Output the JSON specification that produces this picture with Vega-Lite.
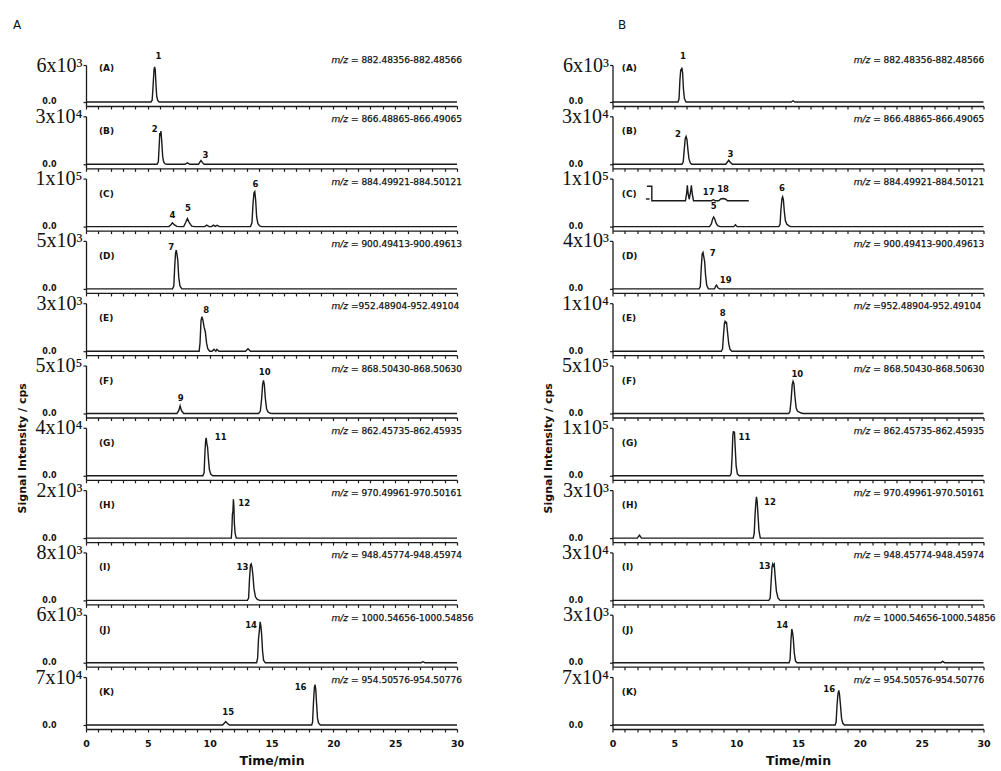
{
"$schema":"https://vega.github.io/schema/vega-lite/v6.json",
"padding":{"left":13,"top":18,"right":0,"bottom":0},
"datasets":{
"tr":[
{"id":"AA","t":0,"v":0},{"id":"AA","t":5.25,"v":0},{"id":"AA","t":5.35,"v":300},{"id":"AA","t":5.42,"v":2400},{"id":"AA","t":5.46,"v":3900},{"id":"AA","t":5.5,"v":5200},{"id":"AA","t":5.55,"v":5700},{"id":"AA","t":5.6,"v":5200},{"id":"AA","t":5.66,"v":2800},{"id":"AA","t":5.72,"v":900},{"id":"AA","t":5.8,"v":250},{"id":"AA","t":5.92,"v":0},{"id":"AA","t":30,"v":0},
{"id":"AB","t":0,"v":0},{"id":"AB","t":5.75,"v":0},{"id":"AB","t":5.85,"v":1500},{"id":"AB","t":5.92,"v":12000},{"id":"AB","t":5.97,"v":19500},{"id":"AB","t":6.01,"v":18000},{"id":"AB","t":6.06,"v":20700},{"id":"AB","t":6.12,"v":15000},{"id":"AB","t":6.2,"v":5000},{"id":"AB","t":6.28,"v":1500},{"id":"AB","t":6.4,"v":300},{"id":"AB","t":6.55,"v":0},{"id":"AB","t":8.0,"v":0},{"id":"AB","t":8.2,"v":900},{"id":"AB","t":8.4,"v":0},{"id":"AB","t":9.1,"v":0},{"id":"AB","t":9.22,"v":1500},{"id":"AB","t":9.3,"v":2400},{"id":"AB","t":9.4,"v":1200},{"id":"AB","t":9.55,"v":0},{"id":"AB","t":30,"v":0},
{"id":"AC","t":0,"v":0},{"id":"AC","t":6.7,"v":0},{"id":"AC","t":6.85,"v":3500},{"id":"AC","t":6.99,"v":8000},{"id":"AC","t":7.15,"v":3500},{"id":"AC","t":7.35,"v":500},{"id":"AC","t":7.6,"v":0},{"id":"AC","t":7.9,"v":0},{"id":"AC","t":8.05,"v":8000},{"id":"AC","t":8.2,"v":17000},{"id":"AC","t":8.35,"v":8000},{"id":"AC","t":8.55,"v":1000},{"id":"AC","t":8.8,"v":0},{"id":"AC","t":9.6,"v":0},{"id":"AC","t":9.76,"v":3000},{"id":"AC","t":9.95,"v":0},{"id":"AC","t":10.15,"v":0},{"id":"AC","t":10.3,"v":3000},{"id":"AC","t":10.45,"v":500},{"id":"AC","t":10.6,"v":2500},{"id":"AC","t":10.8,"v":0},{"id":"AC","t":13.3,"v":0},{"id":"AC","t":13.42,"v":8000},{"id":"AC","t":13.5,"v":45000},{"id":"AC","t":13.58,"v":70000},{"id":"AC","t":13.65,"v":73000},{"id":"AC","t":13.72,"v":55000},{"id":"AC","t":13.8,"v":20000},{"id":"AC","t":13.9,"v":6000},{"id":"AC","t":14.05,"v":1500},{"id":"AC","t":14.2,"v":0},{"id":"AC","t":30,"v":0},
{"id":"AD","t":0,"v":0},{"id":"AD","t":7.0,"v":0},{"id":"AD","t":7.1,"v":300},{"id":"AD","t":7.18,"v":2500},{"id":"AD","t":7.24,"v":3700},{"id":"AD","t":7.3,"v":4050},{"id":"AD","t":7.36,"v":3600},{"id":"AD","t":7.42,"v":3000},{"id":"AD","t":7.5,"v":1200},{"id":"AD","t":7.6,"v":300},{"id":"AD","t":7.75,"v":0},{"id":"AD","t":30,"v":0},
{"id":"AE","t":0,"v":0},{"id":"AE","t":9.15,"v":0},{"id":"AE","t":9.22,"v":500},{"id":"AE","t":9.3,"v":1900},{"id":"AE","t":9.37,"v":2160},{"id":"AE","t":9.45,"v":1950},{"id":"AE","t":9.55,"v":1500},{"id":"AE","t":9.65,"v":1200},{"id":"AE","t":9.75,"v":500},{"id":"AE","t":9.85,"v":150},{"id":"AE","t":10.0,"v":0},{"id":"AE","t":10.2,"v":0},{"id":"AE","t":10.35,"v":120},{"id":"AE","t":10.5,"v":0},{"id":"AE","t":10.58,"v":120},{"id":"AE","t":10.75,"v":0},{"id":"AE","t":12.9,"v":0},{"id":"AE","t":13.1,"v":150},{"id":"AE","t":13.3,"v":0},{"id":"AE","t":30,"v":0},
{"id":"AF","t":0,"v":0},{"id":"AF","t":7.35,"v":0},{"id":"AF","t":7.5,"v":30000},{"id":"AF","t":7.61,"v":80000},{"id":"AF","t":7.72,"v":30000},{"id":"AF","t":7.9,"v":0},{"id":"AF","t":13.95,"v":0},{"id":"AF","t":14.1,"v":25000},{"id":"AF","t":14.2,"v":150000},{"id":"AF","t":14.28,"v":300000},{"id":"AF","t":14.35,"v":345000},{"id":"AF","t":14.42,"v":300000},{"id":"AF","t":14.5,"v":160000},{"id":"AF","t":14.6,"v":50000},{"id":"AF","t":14.72,"v":15000},{"id":"AF","t":14.9,"v":3000},{"id":"AF","t":15.1,"v":0},{"id":"AF","t":30,"v":0},
{"id":"AG","t":0,"v":0},{"id":"AG","t":9.45,"v":0},{"id":"AG","t":9.55,"v":2500},{"id":"AG","t":9.62,"v":20000},{"id":"AG","t":9.68,"v":30000},{"id":"AG","t":9.72,"v":31600},{"id":"AG","t":9.77,"v":27000},{"id":"AG","t":9.83,"v":24000},{"id":"AG","t":9.9,"v":14000},{"id":"AG","t":9.98,"v":5000},{"id":"AG","t":10.1,"v":1200},{"id":"AG","t":10.25,"v":0},{"id":"AG","t":30,"v":0},
{"id":"AH","t":0,"v":0},{"id":"AH","t":11.75,"v":0},{"id":"AH","t":11.8,"v":400},{"id":"AH","t":11.84,"v":1000},{"id":"AH","t":11.88,"v":1100},{"id":"AH","t":11.92,"v":1620},{"id":"AH","t":11.96,"v":1300},{"id":"AH","t":12.0,"v":600},{"id":"AH","t":12.06,"v":200},{"id":"AH","t":12.15,"v":0},{"id":"AH","t":30,"v":0},
{"id":"AI","t":0,"v":0},{"id":"AI","t":13.05,"v":0},{"id":"AI","t":13.15,"v":400},{"id":"AI","t":13.22,"v":3500},{"id":"AI","t":13.3,"v":5900},{"id":"AI","t":13.36,"v":6080},{"id":"AI","t":13.42,"v":5600},{"id":"AI","t":13.5,"v":4200},{"id":"AI","t":13.58,"v":2000},{"id":"AI","t":13.7,"v":600},{"id":"AI","t":13.85,"v":150},{"id":"AI","t":14.05,"v":0},{"id":"AI","t":30,"v":0},
{"id":"AJ","t":0,"v":0},{"id":"AJ","t":13.8,"v":0},{"id":"AJ","t":13.88,"v":600},{"id":"AJ","t":13.95,"v":3000},{"id":"AJ","t":14.02,"v":4000},{"id":"AJ","t":14.08,"v":5100},{"id":"AJ","t":14.14,"v":4600},{"id":"AJ","t":14.2,"v":3600},{"id":"AJ","t":14.28,"v":1400},{"id":"AJ","t":14.36,"v":300},{"id":"AJ","t":14.5,"v":0},{"id":"AJ","t":27.1,"v":0},{"id":"AJ","t":27.25,"v":120},{"id":"AJ","t":27.4,"v":0},{"id":"AJ","t":30,"v":0},
{"id":"AK","t":0,"v":0},{"id":"AK","t":11.05,"v":0},{"id":"AK","t":11.18,"v":2500},{"id":"AK","t":11.3,"v":4900},{"id":"AK","t":11.42,"v":2500},{"id":"AK","t":11.6,"v":0},{"id":"AK","t":18.25,"v":0},{"id":"AK","t":18.32,"v":4000},{"id":"AK","t":18.4,"v":35000},{"id":"AK","t":18.47,"v":55000},{"id":"AK","t":18.52,"v":58800},{"id":"AK","t":18.58,"v":52000},{"id":"AK","t":18.65,"v":30000},{"id":"AK","t":18.72,"v":10000},{"id":"AK","t":18.8,"v":3000},{"id":"AK","t":18.95,"v":0},{"id":"AK","t":30,"v":0},
{"id":"BA","t":0,"v":0},{"id":"BA","t":5.3,"v":0},{"id":"BA","t":5.38,"v":500},{"id":"BA","t":5.45,"v":3500},{"id":"BA","t":5.52,"v":5300},{"id":"BA","t":5.56,"v":5000},{"id":"BA","t":5.61,"v":5580},{"id":"BA","t":5.67,"v":4700},{"id":"BA","t":5.74,"v":2000},{"id":"BA","t":5.82,"v":500},{"id":"BA","t":5.95,"v":0},{"id":"BA","t":14.45,"v":0},{"id":"BA","t":14.6,"v":200},{"id":"BA","t":14.75,"v":0},{"id":"BA","t":30,"v":0},
{"id":"BB","t":0,"v":0},{"id":"BB","t":5.62,"v":0},{"id":"BB","t":5.72,"v":1500},{"id":"BB","t":5.8,"v":9000},{"id":"BB","t":5.88,"v":16000},{"id":"BB","t":5.95,"v":17400},{"id":"BB","t":6.02,"v":15500},{"id":"BB","t":6.1,"v":9000},{"id":"BB","t":6.18,"v":3500},{"id":"BB","t":6.28,"v":1000},{"id":"BB","t":6.4,"v":0},{"id":"BB","t":9.15,"v":0},{"id":"BB","t":9.28,"v":1300},{"id":"BB","t":9.4,"v":2550},{"id":"BB","t":9.52,"v":1300},{"id":"BB","t":9.7,"v":0},{"id":"BB","t":30,"v":0},
{"id":"BC","t":0,"v":0},{"id":"BC","t":7.85,"v":0},{"id":"BC","t":8.0,"v":6000},{"id":"BC","t":8.1,"v":16000},{"id":"BC","t":8.18,"v":20000},{"id":"BC","t":8.27,"v":16000},{"id":"BC","t":8.38,"v":7000},{"id":"BC","t":8.5,"v":2000},{"id":"BC","t":8.7,"v":0},{"id":"BC","t":9.8,"v":0},{"id":"BC","t":9.94,"v":4000},{"id":"BC","t":10.08,"v":0},{"id":"BC","t":13.45,"v":0},{"id":"BC","t":13.55,"v":5000},{"id":"BC","t":13.62,"v":35000},{"id":"BC","t":13.7,"v":58000},{"id":"BC","t":13.76,"v":62000},{"id":"BC","t":13.82,"v":55000},{"id":"BC","t":13.9,"v":30000},{"id":"BC","t":13.98,"v":12000},{"id":"BC","t":14.1,"v":5000},{"id":"BC","t":14.25,"v":2000},{"id":"BC","t":14.4,"v":0},{"id":"BC","t":30,"v":0},
{"id":"BC","s":"i","t":2.78,"v":84000},{"id":"BC","s":"i","t":3.18,"v":84000},{"id":"BC","s":"i","t":3.18,"v":54000},{"id":"BC","s":"i","t":5.9,"v":54000},{"id":"BC","s":"i","t":6.0,"v":70000},{"id":"BC","s":"i","t":6.05,"v":86000},{"id":"BC","s":"i","t":6.12,"v":68000},{"id":"BC","s":"i","t":6.2,"v":57000},{"id":"BC","s":"i","t":6.3,"v":70000},{"id":"BC","s":"i","t":6.38,"v":86000},{"id":"BC","s":"i","t":6.45,"v":68000},{"id":"BC","s":"i","t":6.55,"v":54000},{"id":"BC","s":"i","t":8.0,"v":54000},{"id":"BC","s":"i","t":8.15,"v":56000},{"id":"BC","s":"i","t":8.3,"v":54000},{"id":"BC","s":"i","t":8.6,"v":54000},{"id":"BC","s":"i","t":8.75,"v":57500},{"id":"BC","s":"i","t":8.95,"v":58500},{"id":"BC","s":"i","t":9.15,"v":57000},{"id":"BC","s":"i","t":9.3,"v":54000},{"id":"BC","s":"i","t":11.02,"v":54000},
{"id":"BC","s":"d","t":2.7,"v":57500},{"id":"BC","s":"d","t":3.0,"v":57500},
{"id":"BD","t":0,"v":0},{"id":"BD","t":7.0,"v":0},{"id":"BD","t":7.1,"v":200},{"id":"BD","t":7.18,"v":1800},{"id":"BD","t":7.25,"v":2900},{"id":"BD","t":7.32,"v":3040},{"id":"BD","t":7.38,"v":2700},{"id":"BD","t":7.45,"v":2300},{"id":"BD","t":7.52,"v":1200},{"id":"BD","t":7.62,"v":300},{"id":"BD","t":7.75,"v":0},{"id":"BD","t":8.25,"v":0},{"id":"BD","t":8.35,"v":250},{"id":"BD","t":8.42,"v":320},{"id":"BD","t":8.52,"v":100},{"id":"BD","t":8.65,"v":0},{"id":"BD","t":30,"v":0},
{"id":"BE","t":0,"v":0},{"id":"BE","t":8.8,"v":0},{"id":"BE","t":8.9,"v":500},{"id":"BE","t":8.98,"v":3500},{"id":"BE","t":9.05,"v":5800},{"id":"BE","t":9.1,"v":6200},{"id":"BE","t":9.16,"v":5900},{"id":"BE","t":9.22,"v":6000},{"id":"BE","t":9.3,"v":4000},{"id":"BE","t":9.4,"v":1500},{"id":"BE","t":9.5,"v":400},{"id":"BE","t":9.65,"v":0},{"id":"BE","t":30,"v":0},
{"id":"BF","t":0,"v":0},{"id":"BF","t":14.25,"v":0},{"id":"BF","t":14.35,"v":20000},{"id":"BF","t":14.45,"v":150000},{"id":"BF","t":14.53,"v":300000},{"id":"BF","t":14.6,"v":335000},{"id":"BF","t":14.67,"v":310000},{"id":"BF","t":14.75,"v":180000},{"id":"BF","t":14.85,"v":60000},{"id":"BF","t":14.95,"v":25000},{"id":"BF","t":15.1,"v":15000},{"id":"BF","t":15.25,"v":5000},{"id":"BF","t":15.4,"v":0},{"id":"BF","t":30,"v":0},
{"id":"BG","t":0,"v":0},{"id":"BG","t":9.5,"v":0},{"id":"BG","t":9.6,"v":5000},{"id":"BG","t":9.67,"v":40000},{"id":"BG","t":9.73,"v":85000},{"id":"BG","t":9.78,"v":93000},{"id":"BG","t":9.82,"v":88000},{"id":"BG","t":9.86,"v":92000},{"id":"BG","t":9.92,"v":60000},{"id":"BG","t":10.0,"v":20000},{"id":"BG","t":10.1,"v":4000},{"id":"BG","t":10.25,"v":0},{"id":"BG","t":30,"v":0},
{"id":"BH","t":0,"v":0},{"id":"BH","t":2.0,"v":0},{"id":"BH","t":2.18,"v":180},{"id":"BH","t":2.35,"v":0},{"id":"BH","t":11.38,"v":0},{"id":"BH","t":11.46,"v":300},{"id":"BH","t":11.53,"v":1500},{"id":"BH","t":11.59,"v":2200},{"id":"BH","t":11.64,"v":2580},{"id":"BH","t":11.7,"v":2300},{"id":"BH","t":11.76,"v":1500},{"id":"BH","t":11.84,"v":500},{"id":"BH","t":11.95,"v":0},{"id":"BH","t":30,"v":0},
{"id":"BI","t":0,"v":0},{"id":"BI","t":12.65,"v":0},{"id":"BI","t":12.75,"v":1500},{"id":"BI","t":12.83,"v":12000},{"id":"BI","t":12.9,"v":21000},{"id":"BI","t":12.96,"v":22800},{"id":"BI","t":13.02,"v":21500},{"id":"BI","t":13.08,"v":22500},{"id":"BI","t":13.15,"v":15000},{"id":"BI","t":13.25,"v":6000},{"id":"BI","t":13.38,"v":1500},{"id":"BI","t":13.55,"v":0},{"id":"BI","t":30,"v":0},
{"id":"BJ","t":0,"v":0},{"id":"BJ","t":14.28,"v":0},{"id":"BJ","t":14.36,"v":200},{"id":"BJ","t":14.43,"v":1400},{"id":"BJ","t":14.5,"v":2100},{"id":"BJ","t":14.56,"v":1900},{"id":"BJ","t":14.62,"v":1500},{"id":"BJ","t":14.7,"v":600},{"id":"BJ","t":14.8,"v":100},{"id":"BJ","t":14.92,"v":0},{"id":"BJ","t":26.55,"v":0},{"id":"BJ","t":26.7,"v":80},{"id":"BJ","t":26.85,"v":0},{"id":"BJ","t":30,"v":0},
{"id":"BK","t":0,"v":0},{"id":"BK","t":18.0,"v":0},{"id":"BK","t":18.08,"v":4000},{"id":"BK","t":18.16,"v":30000},{"id":"BK","t":18.23,"v":45000},{"id":"BK","t":18.3,"v":50400},{"id":"BK","t":18.36,"v":44000},{"id":"BK","t":18.43,"v":30000},{"id":"BK","t":18.52,"v":10000},{"id":"BK","t":18.62,"v":2500},{"id":"BK","t":18.75,"v":0},{"id":"BK","t":30,"v":0}
],
"pk":[
{"id":"AA","n":"1","t":5.85,"v":7500},
{"id":"AB","n":"2","t":5.55,"v":21900},{"id":"AB","n":"3","t":9.65,"v":5700},
{"id":"AC","n":"4","t":7.0,"v":24000},{"id":"AC","n":"5","t":8.25,"v":38000},{"id":"AC","n":"6","t":13.7,"v":88000},
{"id":"AD","n":"7","t":6.88,"v":4350},
{"id":"AE","n":"8","t":9.73,"v":2550},
{"id":"AF","n":"9","t":7.65,"v":160000},{"id":"AF","n":"10","t":14.45,"v":435000},
{"id":"AG","n":"11","t":10.9,"v":32400},
{"id":"AH","n":"12","t":12.8,"v":1480},
{"id":"AI","n":"13","t":12.65,"v":5600},
{"id":"AJ","n":"14","t":13.35,"v":4680},
{"id":"AK","n":"15","t":11.5,"v":19600},{"id":"AK","n":"16","t":17.35,"v":56000},
{"id":"BA","n":"1","t":5.7,"v":7380},
{"id":"BB","n":"2","t":5.29,"v":19200},{"id":"BB","n":"3","t":9.53,"v":6600},
{"id":"BC","n":"5","t":8.18,"v":42000},{"id":"BC","n":"6","t":13.7,"v":80000},{"id":"BC","n":"17","t":7.78,"v":73000},{"id":"BC","n":"18","t":8.94,"v":79000},
{"id":"BD","n":"7","t":8.1,"v":2960},{"id":"BD","n":"19","t":9.15,"v":760},
{"id":"BE","n":"8","t":8.91,"v":8000},
{"id":"BF","n":"10","t":14.95,"v":410000},
{"id":"BG","n":"11","t":10.67,"v":80000},
{"id":"BH","n":"12","t":12.73,"v":2280},
{"id":"BI","n":"13","t":12.3,"v":21600},
{"id":"BJ","n":"14","t":13.73,"v":2340},
{"id":"BK","n":"16","t":17.52,"v":53200}
],
"pn":[
{"id":"AA","lab":"(A)","v":6000,"mz":"= 882.48356-882.48566"},
{"id":"AB","lab":"(B)","v":30000,"mz":"= 866.48865-866.49065"},
{"id":"AC","lab":"(C)","v":100000,"mz":"= 884.49921-884.50121"},
{"id":"AD","lab":"(D)","v":5000,"mz":"= 900.49413-900.49613"},
{"id":"AE","lab":"(E)","v":3000,"mz":"=952.48904-952.49104"},
{"id":"AF","lab":"(F)","v":500000,"mz":"= 868.50430-868.50630"},
{"id":"AG","lab":"(G)","v":40000,"mz":"= 862.45735-862.45935"},
{"id":"AH","lab":"(H)","v":2000,"mz":"= 970.49961-970.50161"},
{"id":"AI","lab":"(I)","v":8000,"mz":"= 948.45774-948.45974"},
{"id":"AJ","lab":"(J)","v":6000,"mz":"= 1000.54656-1000.54856"},
{"id":"AK","lab":"(K)","v":70000,"mz":"= 954.50576-954.50776"},
{"id":"BA","lab":"(A)","v":6000,"mz":"= 882.48356-882.48566"},
{"id":"BB","lab":"(B)","v":30000,"mz":"= 866.48865-866.49065"},
{"id":"BC","lab":"(C)","v":100000,"mz":"= 884.49921-884.50121"},
{"id":"BD","lab":"(D)","v":4000,"mz":"= 900.49413-900.49613"},
{"id":"BE","lab":"(E)","v":10000,"mz":"=952.48904-952.49104"},
{"id":"BF","lab":"(F)","v":500000,"mz":"= 868.50430-868.50630"},
{"id":"BG","lab":"(G)","v":100000,"mz":"= 862.45735-862.45935"},
{"id":"BH","lab":"(H)","v":3000,"mz":"= 970.49961-970.50161"},
{"id":"BI","lab":"(I)","v":30000,"mz":"= 948.45774-948.45974"},
{"id":"BJ","lab":"(J)","v":3000,"mz":"= 1000.54656-1000.54856"},
{"id":"BK","lab":"(K)","v":70000,"mz":"= 954.50576-954.50776"}
]
},
"spacing":68.5,
"hconcat":[
{"title":{"text":"A","anchor":"start","frame":"group","dx":-73,"offset":20,"fontSize":12,"font":"DejaVu Sans","fontWeight":"normal","color":"#111"},
 "spacing":10.3,"bounds":"flush",
 "vconcat":[
{"height":41,"encoding":{"y":{"field":"v","type":"quantitative","title":null,"scale":{"domain":[-649,6000]},"axis":{"values":[0,6000],"labelExpr":"datum.value?'6x10³':'0.0'"}}},"layer":[
{"data":{"name":"tr"},"transform":[{"filter":"datum.id=='AA'"}],"mark":{"type":"line","strokeWidth":1.4},"encoding":{"x":{"field":"t","type":"quantitative","title":null,"scale":{"domain":[0,30]}},"detail":{"field":"s","type":"nominal"}}},
{"data":{"name":"pk"},"transform":[{"filter":"datum.id=='AA'"}],"mark":{"type":"text","style":"pk"},"encoding":{"x":{"field":"t","type":"quantitative"},"text":{"field":"n"}}},
{"data":{"name":"pn"},"transform":[{"filter":"datum.id=='AA'"}],"mark":{"type":"text","style":"pl","dy":3},"encoding":{"x":{"datum":1.05},"text":{"field":"lab"}}},
{"data":{"name":"pn"},"transform":[{"filter":"datum.id=='AA'"}],"mark":{"type":"text","style":"mz1","dy":-5},"encoding":{"x":{"datum":19.85},"text":{"value":"m/z"}}},
{"data":{"name":"pn"},"transform":[{"filter":"datum.id=='AA'"}],"mark":{"type":"text","style":"mz2","dy":-5},"encoding":{"x":{"datum":19.85},"text":{"field":"mz"}}}]},
{"encoding":{"y":{"field":"v","type":"quantitative","title":null,"scale":{"domain":[-2500,30000]},"axis":{"values":[0,30000],"labelExpr":"datum.value?'3x10⁴':'0.0'"}}},"layer":[
{"data":{"name":"tr"},"transform":[{"filter":"datum.id=='AB'"}],"mark":{"type":"line","strokeWidth":1.4},"encoding":{"x":{"field":"t","type":"quantitative","title":null,"scale":{"domain":[0,30]}},"detail":{"field":"s","type":"nominal"}}},
{"data":{"name":"pk"},"transform":[{"filter":"datum.id=='AB'"}],"mark":{"type":"text","style":"pk"},"encoding":{"x":{"field":"t","type":"quantitative"},"text":{"field":"n"}}},
{"data":{"name":"pn"},"transform":[{"filter":"datum.id=='AB'"}],"mark":{"type":"text","style":"pl"},"encoding":{"x":{"datum":1.05},"text":{"field":"lab"}}},
{"data":{"name":"pn"},"transform":[{"filter":"datum.id=='AB'"}],"mark":{"type":"text","style":"mz1"},"encoding":{"x":{"datum":19.85},"text":{"value":"m/z"}}},
{"data":{"name":"pn"},"transform":[{"filter":"datum.id=='AB'"}],"mark":{"type":"text","style":"mz2"},"encoding":{"x":{"datum":19.85},"text":{"field":"mz"}}}]},
{"encoding":{"y":{"field":"v","type":"quantitative","title":null,"scale":{"domain":[-8333,100000]},"axis":{"values":[0,100000],"labelExpr":"datum.value?'1x10⁵':'0.0'"}}},"layer":[
{"data":{"name":"tr"},"transform":[{"filter":"datum.id=='AC'"}],"mark":{"type":"line","strokeWidth":1.4},"encoding":{"x":{"field":"t","type":"quantitative","title":null,"scale":{"domain":[0,30]}},"detail":{"field":"s","type":"nominal"}}},
{"data":{"name":"pk"},"transform":[{"filter":"datum.id=='AC'"}],"mark":{"type":"text","style":"pk"},"encoding":{"x":{"field":"t","type":"quantitative"},"text":{"field":"n"}}},
{"data":{"name":"pn"},"transform":[{"filter":"datum.id=='AC'"}],"mark":{"type":"text","style":"pl"},"encoding":{"x":{"datum":1.05},"text":{"field":"lab"}}},
{"data":{"name":"pn"},"transform":[{"filter":"datum.id=='AC'"}],"mark":{"type":"text","style":"mz1"},"encoding":{"x":{"datum":19.85},"text":{"value":"m/z"}}},
{"data":{"name":"pn"},"transform":[{"filter":"datum.id=='AC'"}],"mark":{"type":"text","style":"mz2"},"encoding":{"x":{"datum":19.85},"text":{"field":"mz"}}}]},
{"encoding":{"y":{"field":"v","type":"quantitative","title":null,"scale":{"domain":[-417,5000]},"axis":{"values":[0,5000],"labelExpr":"datum.value?'5x10³':'0.0'"}}},"layer":[
{"data":{"name":"tr"},"transform":[{"filter":"datum.id=='AD'"}],"mark":{"type":"line","strokeWidth":1.4},"encoding":{"x":{"field":"t","type":"quantitative","title":null,"scale":{"domain":[0,30]}},"detail":{"field":"s","type":"nominal"}}},
{"data":{"name":"pk"},"transform":[{"filter":"datum.id=='AD'"}],"mark":{"type":"text","style":"pk"},"encoding":{"x":{"field":"t","type":"quantitative"},"text":{"field":"n"}}},
{"data":{"name":"pn"},"transform":[{"filter":"datum.id=='AD'"}],"mark":{"type":"text","style":"pl"},"encoding":{"x":{"datum":1.05},"text":{"field":"lab"}}},
{"data":{"name":"pn"},"transform":[{"filter":"datum.id=='AD'"}],"mark":{"type":"text","style":"mz1"},"encoding":{"x":{"datum":19.85},"text":{"value":"m/z"}}},
{"data":{"name":"pn"},"transform":[{"filter":"datum.id=='AD'"}],"mark":{"type":"text","style":"mz2"},"encoding":{"x":{"datum":19.85},"text":{"field":"mz"}}}]},
{"encoding":{"y":{"field":"v","type":"quantitative","title":null,"scale":{"domain":[-250,3000]},"axis":{"values":[0,3000],"labelExpr":"datum.value?'3x10³':'0.0'"}}},"layer":[
{"data":{"name":"tr"},"transform":[{"filter":"datum.id=='AE'"}],"mark":{"type":"line","strokeWidth":1.4},"encoding":{"x":{"field":"t","type":"quantitative","title":null,"scale":{"domain":[0,30]}},"detail":{"field":"s","type":"nominal"}}},
{"data":{"name":"pk"},"transform":[{"filter":"datum.id=='AE'"}],"mark":{"type":"text","style":"pk"},"encoding":{"x":{"field":"t","type":"quantitative"},"text":{"field":"n"}}},
{"data":{"name":"pn"},"transform":[{"filter":"datum.id=='AE'"}],"mark":{"type":"text","style":"pl"},"encoding":{"x":{"datum":1.05},"text":{"field":"lab"}}},
{"data":{"name":"pn"},"transform":[{"filter":"datum.id=='AE'"}],"mark":{"type":"text","style":"mz1"},"encoding":{"x":{"datum":19.85},"text":{"value":"m/z"}}},
{"data":{"name":"pn"},"transform":[{"filter":"datum.id=='AE'"}],"mark":{"type":"text","style":"mz2"},"encoding":{"x":{"datum":19.85},"text":{"field":"mz"}}}]},
{"encoding":{"y":{"field":"v","type":"quantitative","title":null,"scale":{"domain":[-41667,500000]},"axis":{"values":[0,500000],"labelExpr":"datum.value?'5x10⁵':'0.0'"}}},"layer":[
{"data":{"name":"tr"},"transform":[{"filter":"datum.id=='AF'"}],"mark":{"type":"line","strokeWidth":1.4},"encoding":{"x":{"field":"t","type":"quantitative","title":null,"scale":{"domain":[0,30]}},"detail":{"field":"s","type":"nominal"}}},
{"data":{"name":"pk"},"transform":[{"filter":"datum.id=='AF'"}],"mark":{"type":"text","style":"pk"},"encoding":{"x":{"field":"t","type":"quantitative"},"text":{"field":"n"}}},
{"data":{"name":"pn"},"transform":[{"filter":"datum.id=='AF'"}],"mark":{"type":"text","style":"pl"},"encoding":{"x":{"datum":1.05},"text":{"field":"lab"}}},
{"data":{"name":"pn"},"transform":[{"filter":"datum.id=='AF'"}],"mark":{"type":"text","style":"mz1"},"encoding":{"x":{"datum":19.85},"text":{"value":"m/z"}}},
{"data":{"name":"pn"},"transform":[{"filter":"datum.id=='AF'"}],"mark":{"type":"text","style":"mz2"},"encoding":{"x":{"datum":19.85},"text":{"field":"mz"}}}]},
{"encoding":{"y":{"field":"v","type":"quantitative","title":"Signal Intensity / cps","scale":{"domain":[-3333,40000]},"axis":{"values":[0,40000],"labelExpr":"datum.value?'4x10⁴':'0.0'","titleX":-61,"titleY":20,"titleBaseline":"alphabetic"}}},"layer":[
{"data":{"name":"tr"},"transform":[{"filter":"datum.id=='AG'"}],"mark":{"type":"line","strokeWidth":1.4},"encoding":{"x":{"field":"t","type":"quantitative","title":null,"scale":{"domain":[0,30]}},"detail":{"field":"s","type":"nominal"}}},
{"data":{"name":"pk"},"transform":[{"filter":"datum.id=='AG'"}],"mark":{"type":"text","style":"pk"},"encoding":{"x":{"field":"t","type":"quantitative"},"text":{"field":"n"}}},
{"data":{"name":"pn"},"transform":[{"filter":"datum.id=='AG'"}],"mark":{"type":"text","style":"pl"},"encoding":{"x":{"datum":1.05},"text":{"field":"lab"}}},
{"data":{"name":"pn"},"transform":[{"filter":"datum.id=='AG'"}],"mark":{"type":"text","style":"mz1"},"encoding":{"x":{"datum":19.85},"text":{"value":"m/z"}}},
{"data":{"name":"pn"},"transform":[{"filter":"datum.id=='AG'"}],"mark":{"type":"text","style":"mz2"},"encoding":{"x":{"datum":19.85},"text":{"field":"mz"}}}]},
{"encoding":{"y":{"field":"v","type":"quantitative","title":null,"scale":{"domain":[-167,2000]},"axis":{"values":[0,2000],"labelExpr":"datum.value?'2x10³':'0.0'"}}},"layer":[
{"data":{"name":"tr"},"transform":[{"filter":"datum.id=='AH'"}],"mark":{"type":"line","strokeWidth":1.4},"encoding":{"x":{"field":"t","type":"quantitative","title":null,"scale":{"domain":[0,30]}},"detail":{"field":"s","type":"nominal"}}},
{"data":{"name":"pk"},"transform":[{"filter":"datum.id=='AH'"}],"mark":{"type":"text","style":"pk"},"encoding":{"x":{"field":"t","type":"quantitative"},"text":{"field":"n"}}},
{"data":{"name":"pn"},"transform":[{"filter":"datum.id=='AH'"}],"mark":{"type":"text","style":"pl"},"encoding":{"x":{"datum":1.05},"text":{"field":"lab"}}},
{"data":{"name":"pn"},"transform":[{"filter":"datum.id=='AH'"}],"mark":{"type":"text","style":"mz1"},"encoding":{"x":{"datum":19.85},"text":{"value":"m/z"}}},
{"data":{"name":"pn"},"transform":[{"filter":"datum.id=='AH'"}],"mark":{"type":"text","style":"mz2"},"encoding":{"x":{"datum":19.85},"text":{"field":"mz"}}}]},
{"encoding":{"y":{"field":"v","type":"quantitative","title":null,"scale":{"domain":[-667,8000]},"axis":{"values":[0,8000],"labelExpr":"datum.value?'8x10³':'0.0'"}}},"layer":[
{"data":{"name":"tr"},"transform":[{"filter":"datum.id=='AI'"}],"mark":{"type":"line","strokeWidth":1.4},"encoding":{"x":{"field":"t","type":"quantitative","title":null,"scale":{"domain":[0,30]}},"detail":{"field":"s","type":"nominal"}}},
{"data":{"name":"pk"},"transform":[{"filter":"datum.id=='AI'"}],"mark":{"type":"text","style":"pk"},"encoding":{"x":{"field":"t","type":"quantitative"},"text":{"field":"n"}}},
{"data":{"name":"pn"},"transform":[{"filter":"datum.id=='AI'"}],"mark":{"type":"text","style":"pl"},"encoding":{"x":{"datum":1.05},"text":{"field":"lab"}}},
{"data":{"name":"pn"},"transform":[{"filter":"datum.id=='AI'"}],"mark":{"type":"text","style":"mz1"},"encoding":{"x":{"datum":19.85},"text":{"value":"m/z"}}},
{"data":{"name":"pn"},"transform":[{"filter":"datum.id=='AI'"}],"mark":{"type":"text","style":"mz2"},"encoding":{"x":{"datum":19.85},"text":{"field":"mz"}}}]},
{"encoding":{"y":{"field":"v","type":"quantitative","title":null,"scale":{"domain":[-500,6000]},"axis":{"values":[0,6000],"labelExpr":"datum.value?'6x10³':'0.0'"}}},"layer":[
{"data":{"name":"tr"},"transform":[{"filter":"datum.id=='AJ'"}],"mark":{"type":"line","strokeWidth":1.4},"encoding":{"x":{"field":"t","type":"quantitative","title":null,"scale":{"domain":[0,30]}},"detail":{"field":"s","type":"nominal"}}},
{"data":{"name":"pk"},"transform":[{"filter":"datum.id=='AJ'"}],"mark":{"type":"text","style":"pk"},"encoding":{"x":{"field":"t","type":"quantitative"},"text":{"field":"n"}}},
{"data":{"name":"pn"},"transform":[{"filter":"datum.id=='AJ'"}],"mark":{"type":"text","style":"pl"},"encoding":{"x":{"datum":1.05},"text":{"field":"lab"}}},
{"data":{"name":"pn"},"transform":[{"filter":"datum.id=='AJ'"}],"mark":{"type":"text","style":"mz1"},"encoding":{"x":{"datum":19.85},"text":{"value":"m/z"}}},
{"data":{"name":"pn"},"transform":[{"filter":"datum.id=='AJ'"}],"mark":{"type":"text","style":"mz2"},"encoding":{"x":{"datum":19.85},"text":{"field":"mz"}}}]},
{"encoding":{"y":{"field":"v","type":"quantitative","title":null,"scale":{"domain":[-5833,70000]},"axis":{"values":[0,70000],"labelExpr":"datum.value?'7x10⁴':'0.0'"}}},"layer":[
{"data":{"name":"tr"},"transform":[{"filter":"datum.id=='AK'"}],"mark":{"type":"line","strokeWidth":1.4},"encoding":{"x":{"field":"t","type":"quantitative","title":"Time/min","scale":{"domain":[0,30]},"axis":{"labels":true,"labelExpr":"datum.value%5?'':datum.label"}},"detail":{"field":"s","type":"nominal"}}},
{"data":{"name":"pk"},"transform":[{"filter":"datum.id=='AK'"}],"mark":{"type":"text","style":"pk"},"encoding":{"x":{"field":"t","type":"quantitative"},"text":{"field":"n"}}},
{"data":{"name":"pn"},"transform":[{"filter":"datum.id=='AK'"}],"mark":{"type":"text","style":"pl"},"encoding":{"x":{"datum":1.05},"text":{"field":"lab"}}},
{"data":{"name":"pn"},"transform":[{"filter":"datum.id=='AK'"}],"mark":{"type":"text","style":"mz1"},"encoding":{"x":{"datum":19.85},"text":{"value":"m/z"}}},
{"data":{"name":"pn"},"transform":[{"filter":"datum.id=='AK'"}],"mark":{"type":"text","style":"mz2"},"encoding":{"x":{"datum":19.85},"text":{"field":"mz"}}}]}
]},
{"title":{"text":"B","anchor":"start","frame":"group","dx":5.5,"offset":20,"fontSize":12,"font":"DejaVu Sans","fontWeight":"normal","color":"#111"},
 "spacing":10.3,"bounds":"flush",
 "vconcat":[
{"height":41,"encoding":{"y":{"field":"v","type":"quantitative","title":null,"scale":{"domain":[-649,6000]},"axis":{"values":[0,6000],"labelExpr":"datum.value?'6x10³':'0.0'"}}},"layer":[
{"data":{"name":"tr"},"transform":[{"filter":"datum.id=='BA'"}],"mark":{"type":"line","strokeWidth":1.4},"encoding":{"x":{"field":"t","type":"quantitative","title":null,"scale":{"domain":[0,30]}},"detail":{"field":"s","type":"nominal"}}},
{"data":{"name":"pk"},"transform":[{"filter":"datum.id=='BA'"}],"mark":{"type":"text","style":"pk"},"encoding":{"x":{"field":"t","type":"quantitative"},"text":{"field":"n"}}},
{"data":{"name":"pn"},"transform":[{"filter":"datum.id=='BA'"}],"mark":{"type":"text","style":"pl","dy":3},"encoding":{"x":{"datum":0.75},"text":{"field":"lab"}}},
{"data":{"name":"pn"},"transform":[{"filter":"datum.id=='BA'"}],"mark":{"type":"text","style":"mz1","dy":-5},"encoding":{"x":{"datum":19.5},"text":{"value":"m/z"}}},
{"data":{"name":"pn"},"transform":[{"filter":"datum.id=='BA'"}],"mark":{"type":"text","style":"mz2","dy":-5},"encoding":{"x":{"datum":19.5},"text":{"field":"mz"}}}]},
{"encoding":{"y":{"field":"v","type":"quantitative","title":null,"scale":{"domain":[-2500,30000]},"axis":{"values":[0,30000],"labelExpr":"datum.value?'3x10⁴':'0.0'"}}},"layer":[
{"data":{"name":"tr"},"transform":[{"filter":"datum.id=='BB'"}],"mark":{"type":"line","strokeWidth":1.4},"encoding":{"x":{"field":"t","type":"quantitative","title":null,"scale":{"domain":[0,30]}},"detail":{"field":"s","type":"nominal"}}},
{"data":{"name":"pk"},"transform":[{"filter":"datum.id=='BB'"}],"mark":{"type":"text","style":"pk"},"encoding":{"x":{"field":"t","type":"quantitative"},"text":{"field":"n"}}},
{"data":{"name":"pn"},"transform":[{"filter":"datum.id=='BB'"}],"mark":{"type":"text","style":"pl"},"encoding":{"x":{"datum":0.75},"text":{"field":"lab"}}},
{"data":{"name":"pn"},"transform":[{"filter":"datum.id=='BB'"}],"mark":{"type":"text","style":"mz1"},"encoding":{"x":{"datum":19.5},"text":{"value":"m/z"}}},
{"data":{"name":"pn"},"transform":[{"filter":"datum.id=='BB'"}],"mark":{"type":"text","style":"mz2"},"encoding":{"x":{"datum":19.5},"text":{"field":"mz"}}}]},
{"encoding":{"y":{"field":"v","type":"quantitative","title":null,"scale":{"domain":[-8333,100000]},"axis":{"values":[0,100000],"labelExpr":"datum.value?'1x10⁵':'0.0'"}}},"layer":[
{"data":{"name":"tr"},"transform":[{"filter":"datum.id=='BC'"}],"mark":{"type":"line","strokeWidth":1.4},"encoding":{"x":{"field":"t","type":"quantitative","title":null,"scale":{"domain":[0,30]}},"detail":{"field":"s","type":"nominal"}}},
{"data":{"name":"pk"},"transform":[{"filter":"datum.id=='BC'"}],"mark":{"type":"text","style":"pk"},"encoding":{"x":{"field":"t","type":"quantitative"},"text":{"field":"n"}}},
{"data":{"name":"pn"},"transform":[{"filter":"datum.id=='BC'"}],"mark":{"type":"text","style":"pl"},"encoding":{"x":{"datum":0.75},"text":{"field":"lab"}}},
{"data":{"name":"pn"},"transform":[{"filter":"datum.id=='BC'"}],"mark":{"type":"text","style":"mz1"},"encoding":{"x":{"datum":19.5},"text":{"value":"m/z"}}},
{"data":{"name":"pn"},"transform":[{"filter":"datum.id=='BC'"}],"mark":{"type":"text","style":"mz2"},"encoding":{"x":{"datum":19.5},"text":{"field":"mz"}}}]},
{"encoding":{"y":{"field":"v","type":"quantitative","title":null,"scale":{"domain":[-333,4000]},"axis":{"values":[0,4000],"labelExpr":"datum.value?'4x10³':'0.0'"}}},"layer":[
{"data":{"name":"tr"},"transform":[{"filter":"datum.id=='BD'"}],"mark":{"type":"line","strokeWidth":1.4},"encoding":{"x":{"field":"t","type":"quantitative","title":null,"scale":{"domain":[0,30]}},"detail":{"field":"s","type":"nominal"}}},
{"data":{"name":"pk"},"transform":[{"filter":"datum.id=='BD'"}],"mark":{"type":"text","style":"pk"},"encoding":{"x":{"field":"t","type":"quantitative"},"text":{"field":"n"}}},
{"data":{"name":"pn"},"transform":[{"filter":"datum.id=='BD'"}],"mark":{"type":"text","style":"pl"},"encoding":{"x":{"datum":0.75},"text":{"field":"lab"}}},
{"data":{"name":"pn"},"transform":[{"filter":"datum.id=='BD'"}],"mark":{"type":"text","style":"mz1"},"encoding":{"x":{"datum":19.5},"text":{"value":"m/z"}}},
{"data":{"name":"pn"},"transform":[{"filter":"datum.id=='BD'"}],"mark":{"type":"text","style":"mz2"},"encoding":{"x":{"datum":19.5},"text":{"field":"mz"}}}]},
{"encoding":{"y":{"field":"v","type":"quantitative","title":null,"scale":{"domain":[-833,10000]},"axis":{"values":[0,10000],"labelExpr":"datum.value?'1x10⁴':'0.0'"}}},"layer":[
{"data":{"name":"tr"},"transform":[{"filter":"datum.id=='BE'"}],"mark":{"type":"line","strokeWidth":1.4},"encoding":{"x":{"field":"t","type":"quantitative","title":null,"scale":{"domain":[0,30]}},"detail":{"field":"s","type":"nominal"}}},
{"data":{"name":"pk"},"transform":[{"filter":"datum.id=='BE'"}],"mark":{"type":"text","style":"pk"},"encoding":{"x":{"field":"t","type":"quantitative"},"text":{"field":"n"}}},
{"data":{"name":"pn"},"transform":[{"filter":"datum.id=='BE'"}],"mark":{"type":"text","style":"pl"},"encoding":{"x":{"datum":0.75},"text":{"field":"lab"}}},
{"data":{"name":"pn"},"transform":[{"filter":"datum.id=='BE'"}],"mark":{"type":"text","style":"mz1"},"encoding":{"x":{"datum":19.5},"text":{"value":"m/z"}}},
{"data":{"name":"pn"},"transform":[{"filter":"datum.id=='BE'"}],"mark":{"type":"text","style":"mz2"},"encoding":{"x":{"datum":19.5},"text":{"field":"mz"}}}]},
{"encoding":{"y":{"field":"v","type":"quantitative","title":null,"scale":{"domain":[-41667,500000]},"axis":{"values":[0,500000],"labelExpr":"datum.value?'5x10⁵':'0.0'"}}},"layer":[
{"data":{"name":"tr"},"transform":[{"filter":"datum.id=='BF'"}],"mark":{"type":"line","strokeWidth":1.4},"encoding":{"x":{"field":"t","type":"quantitative","title":null,"scale":{"domain":[0,30]}},"detail":{"field":"s","type":"nominal"}}},
{"data":{"name":"pk"},"transform":[{"filter":"datum.id=='BF'"}],"mark":{"type":"text","style":"pk"},"encoding":{"x":{"field":"t","type":"quantitative"},"text":{"field":"n"}}},
{"data":{"name":"pn"},"transform":[{"filter":"datum.id=='BF'"}],"mark":{"type":"text","style":"pl"},"encoding":{"x":{"datum":0.75},"text":{"field":"lab"}}},
{"data":{"name":"pn"},"transform":[{"filter":"datum.id=='BF'"}],"mark":{"type":"text","style":"mz1"},"encoding":{"x":{"datum":19.5},"text":{"value":"m/z"}}},
{"data":{"name":"pn"},"transform":[{"filter":"datum.id=='BF'"}],"mark":{"type":"text","style":"mz2"},"encoding":{"x":{"datum":19.5},"text":{"field":"mz"}}}]},
{"encoding":{"y":{"field":"v","type":"quantitative","title":"Signal Intensity / cps","scale":{"domain":[-8333,100000]},"axis":{"values":[0,100000],"labelExpr":"datum.value?'1x10⁵':'0.0'","titleX":-61,"titleY":20,"titleBaseline":"alphabetic"}}},"layer":[
{"data":{"name":"tr"},"transform":[{"filter":"datum.id=='BG'"}],"mark":{"type":"line","strokeWidth":1.4},"encoding":{"x":{"field":"t","type":"quantitative","title":null,"scale":{"domain":[0,30]}},"detail":{"field":"s","type":"nominal"}}},
{"data":{"name":"pk"},"transform":[{"filter":"datum.id=='BG'"}],"mark":{"type":"text","style":"pk"},"encoding":{"x":{"field":"t","type":"quantitative"},"text":{"field":"n"}}},
{"data":{"name":"pn"},"transform":[{"filter":"datum.id=='BG'"}],"mark":{"type":"text","style":"pl"},"encoding":{"x":{"datum":0.75},"text":{"field":"lab"}}},
{"data":{"name":"pn"},"transform":[{"filter":"datum.id=='BG'"}],"mark":{"type":"text","style":"mz1"},"encoding":{"x":{"datum":19.5},"text":{"value":"m/z"}}},
{"data":{"name":"pn"},"transform":[{"filter":"datum.id=='BG'"}],"mark":{"type":"text","style":"mz2"},"encoding":{"x":{"datum":19.5},"text":{"field":"mz"}}}]},
{"encoding":{"y":{"field":"v","type":"quantitative","title":null,"scale":{"domain":[-250,3000]},"axis":{"values":[0,3000],"labelExpr":"datum.value?'3x10³':'0.0'"}}},"layer":[
{"data":{"name":"tr"},"transform":[{"filter":"datum.id=='BH'"}],"mark":{"type":"line","strokeWidth":1.4},"encoding":{"x":{"field":"t","type":"quantitative","title":null,"scale":{"domain":[0,30]}},"detail":{"field":"s","type":"nominal"}}},
{"data":{"name":"pk"},"transform":[{"filter":"datum.id=='BH'"}],"mark":{"type":"text","style":"pk"},"encoding":{"x":{"field":"t","type":"quantitative"},"text":{"field":"n"}}},
{"data":{"name":"pn"},"transform":[{"filter":"datum.id=='BH'"}],"mark":{"type":"text","style":"pl"},"encoding":{"x":{"datum":0.75},"text":{"field":"lab"}}},
{"data":{"name":"pn"},"transform":[{"filter":"datum.id=='BH'"}],"mark":{"type":"text","style":"mz1"},"encoding":{"x":{"datum":19.5},"text":{"value":"m/z"}}},
{"data":{"name":"pn"},"transform":[{"filter":"datum.id=='BH'"}],"mark":{"type":"text","style":"mz2"},"encoding":{"x":{"datum":19.5},"text":{"field":"mz"}}}]},
{"encoding":{"y":{"field":"v","type":"quantitative","title":null,"scale":{"domain":[-2500,30000]},"axis":{"values":[0,30000],"labelExpr":"datum.value?'3x10⁴':'0.0'"}}},"layer":[
{"data":{"name":"tr"},"transform":[{"filter":"datum.id=='BI'"}],"mark":{"type":"line","strokeWidth":1.4},"encoding":{"x":{"field":"t","type":"quantitative","title":null,"scale":{"domain":[0,30]}},"detail":{"field":"s","type":"nominal"}}},
{"data":{"name":"pk"},"transform":[{"filter":"datum.id=='BI'"}],"mark":{"type":"text","style":"pk"},"encoding":{"x":{"field":"t","type":"quantitative"},"text":{"field":"n"}}},
{"data":{"name":"pn"},"transform":[{"filter":"datum.id=='BI'"}],"mark":{"type":"text","style":"pl"},"encoding":{"x":{"datum":0.75},"text":{"field":"lab"}}},
{"data":{"name":"pn"},"transform":[{"filter":"datum.id=='BI'"}],"mark":{"type":"text","style":"mz1"},"encoding":{"x":{"datum":19.5},"text":{"value":"m/z"}}},
{"data":{"name":"pn"},"transform":[{"filter":"datum.id=='BI'"}],"mark":{"type":"text","style":"mz2"},"encoding":{"x":{"datum":19.5},"text":{"field":"mz"}}}]},
{"encoding":{"y":{"field":"v","type":"quantitative","title":null,"scale":{"domain":[-250,3000]},"axis":{"values":[0,3000],"labelExpr":"datum.value?'3x10³':'0.0'"}}},"layer":[
{"data":{"name":"tr"},"transform":[{"filter":"datum.id=='BJ'"}],"mark":{"type":"line","strokeWidth":1.4},"encoding":{"x":{"field":"t","type":"quantitative","title":null,"scale":{"domain":[0,30]}},"detail":{"field":"s","type":"nominal"}}},
{"data":{"name":"pk"},"transform":[{"filter":"datum.id=='BJ'"}],"mark":{"type":"text","style":"pk"},"encoding":{"x":{"field":"t","type":"quantitative"},"text":{"field":"n"}}},
{"data":{"name":"pn"},"transform":[{"filter":"datum.id=='BJ'"}],"mark":{"type":"text","style":"pl"},"encoding":{"x":{"datum":0.75},"text":{"field":"lab"}}},
{"data":{"name":"pn"},"transform":[{"filter":"datum.id=='BJ'"}],"mark":{"type":"text","style":"mz1"},"encoding":{"x":{"datum":19.5},"text":{"value":"m/z"}}},
{"data":{"name":"pn"},"transform":[{"filter":"datum.id=='BJ'"}],"mark":{"type":"text","style":"mz2"},"encoding":{"x":{"datum":19.5},"text":{"field":"mz"}}}]},
{"encoding":{"y":{"field":"v","type":"quantitative","title":null,"scale":{"domain":[-5833,70000]},"axis":{"values":[0,70000],"labelExpr":"datum.value?'7x10⁴':'0.0'"}}},"layer":[
{"data":{"name":"tr"},"transform":[{"filter":"datum.id=='BK'"}],"mark":{"type":"line","strokeWidth":1.4},"encoding":{"x":{"field":"t","type":"quantitative","title":"Time/min","scale":{"domain":[0,30]},"axis":{"labels":true,"labelExpr":"datum.value%5?'':datum.label"}},"detail":{"field":"s","type":"nominal"}}},
{"data":{"name":"pk"},"transform":[{"filter":"datum.id=='BK'"}],"mark":{"type":"text","style":"pk"},"encoding":{"x":{"field":"t","type":"quantitative"},"text":{"field":"n"}}},
{"data":{"name":"pn"},"transform":[{"filter":"datum.id=='BK'"}],"mark":{"type":"text","style":"pl"},"encoding":{"x":{"datum":0.75},"text":{"field":"lab"}}},
{"data":{"name":"pn"},"transform":[{"filter":"datum.id=='BK'"}],"mark":{"type":"text","style":"mz1"},"encoding":{"x":{"datum":19.5},"text":{"value":"m/z"}}},
{"data":{"name":"pn"},"transform":[{"filter":"datum.id=='BK'"}],"mark":{"type":"text","style":"mz2"},"encoding":{"x":{"datum":19.5},"text":{"field":"mz"}}}]}
]}
],
"config":{
"view":{"stroke":null,"continuousWidth":371,"continuousHeight":52},
"mark":{"color":"#1a1a1a"},
"text":{"color":"#111"},
"axis":{"grid":false,"domainColor":"#1a1a1a","tickColor":"#1a1a1a","domainWidth":1.3,"tickWidth":1.2,"labelColor":"#111","titleColor":"#111"},
"axisX":{"tickCount":30,"tickSize":3,"labels":false,"labelFlush":false,"labelOverlap":false,"labelFont":"DejaVu Sans","labelFontWeight":"bold","labelFontSize":9.5,"labelPadding":6,"titleFont":"DejaVu Sans","titleFontWeight":"bold","titleFontSize":12.5,"titlePadding":7},
"axisY":{"tickSize":3,"labelOverlap":false,
 "labelFont":{"condition":{"test":"datum.value==0","value":"DejaVu Sans"},"value":"Liberation Serif"},
 "labelFontSize":{"condition":{"test":"datum.value==0","value":8},"value":20},
 "labelFontWeight":{"condition":{"test":"datum.value==0","value":"bold"},"value":"normal"},
 "labelPadding":{"condition":{"test":"datum.value==0","value":27},"value":1},
 "titleFont":"DejaVu Sans","titleFontWeight":"bold","titleFontSize":11},
"style":{
 "pk":{"font":"DejaVu Sans","fontWeight":"bold","fontSize":8.5},
 "pl":{"font":"DejaVu Sans","fontWeight":"bold","fontSize":9,"align":"left","dy":15},
 "mz1":{"font":"DejaVu Sans","fontStyle":"italic","fontSize":9,"align":"left","dy":3,"stroke":"#111","strokeWidth":0.25},
 "mz2":{"font":"DejaVu Sans","fontSize":9,"align":"left","dx":19.5,"dy":3,"stroke":"#111","strokeWidth":0.25}
}
}
}
